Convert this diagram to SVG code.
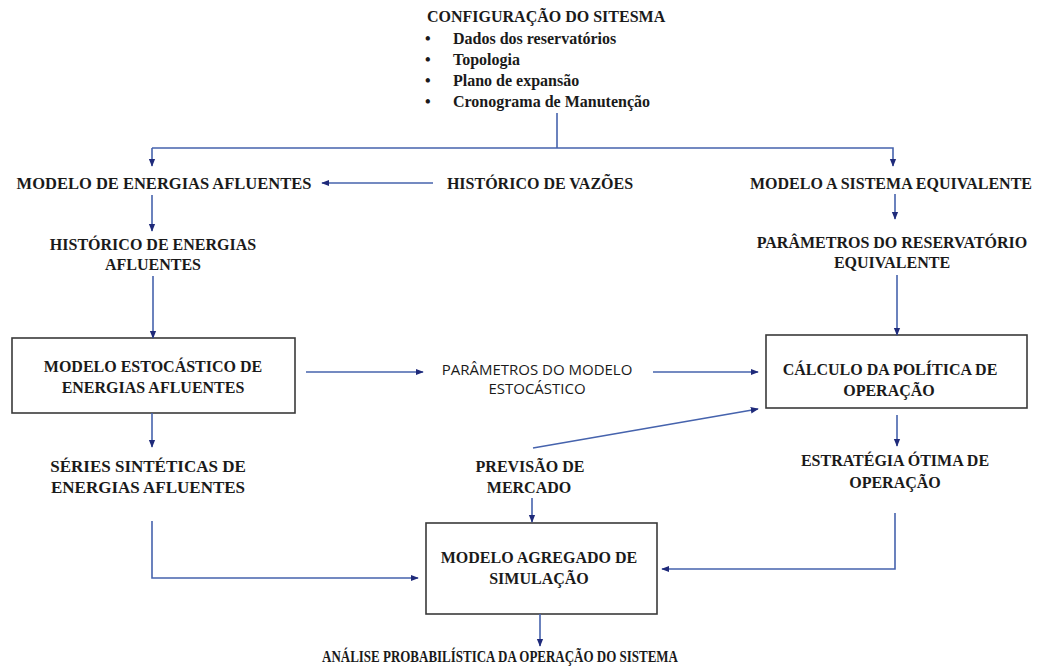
<svg xmlns="http://www.w3.org/2000/svg" width="1044" height="666" viewBox="0 0 1044 666">
<style>
  .t { font-family: "Liberation Serif", "Tinos", "Times New Roman", "Noto Serif", "DejaVu Serif", serif; font-weight: bold; font-size: 16px; fill: #1a1a1a; text-anchor: middle; }
  .s { font-family: "Liberation Serif", "Tinos", "Times New Roman", "Noto Serif", "DejaVu Serif", serif; font-weight: bold; font-size: 16px; fill: #1a1a1a; }
  .c { font-family: "Open Sans", "Liberation Sans", sans-serif; font-size: 15px; fill: #1a1a1a; text-anchor: middle; }
  .box { fill: #ffffff; stroke: #3a3a3a; stroke-width: 1.6; }
  .ln { fill: none; stroke: #4663ad; stroke-width: 1.6; }
  .ar { marker-end: url(#ah); }
</style>
<defs>
  <marker id="ah" viewBox="0 0 10 10" refX="9" refY="5" markerWidth="5" markerHeight="5" orient="auto" markerUnits="strokeWidth">
    <path d="M0,1 L10,5 L0,9 Z" fill="#1f2a7a"/>
  </marker>
</defs>
<rect width="1044" height="666" fill="#ffffff"/>

<g id="config">
  <text class="s" x="427" y="22">CONFIGURAÇÃO DO SITESMA</text>
  <text class="s" x="425" y="44">•</text><text class="s" x="453" y="44">Dados dos reservatórios</text>
  <text class="s" x="425" y="65">•</text><text class="s" x="453" y="65">Topologia</text>
  <text class="s" x="425" y="86">•</text><text class="s" x="453" y="86">Plano de expansão</text>
  <text class="s" x="425" y="107">•</text><text class="s" x="453" y="107">Cronograma de Manutenção</text>
</g>

<g id="modelo-energias"><text class="t" x="164" y="189" style="font-size:16.5px">MODELO DE ENERGIAS AFLUENTES</text></g>
<g id="historico-vazoes"><text class="t" x="540" y="189">HISTÓRICO DE VAZÕES</text></g>
<g id="modelo-sistema"><text class="t" x="891" y="189">MODELO A SISTEMA EQUIVALENTE</text></g>
<g id="historico-energias">
  <text class="t" x="153" y="250">HISTÓRICO DE ENERGIAS</text>
  <text class="t" x="153" y="270">AFLUENTES</text>
</g>
<g id="parametros-reservatorio">
  <text class="t" x="892" y="248">PARÂMETROS DO RESERVATÓRIO</text>
  <text class="t" x="892" y="268">EQUIVALENTE</text>
</g>
<g id="modelo-estocastico">
  <rect class="box" x="12" y="338" width="283" height="75"/>
  <text class="t" x="153" y="372">MODELO ESTOCÁSTICO DE</text>
  <text class="t" x="153" y="393">ENERGIAS AFLUENTES</text>
</g>
<g id="parametros-modelo">
  <text class="c" x="537" y="375">PARÂMETROS DO MODELO</text>
  <text class="c" x="537" y="394">ESTOCÁSTICO</text>
</g>
<g id="calculo-politica">
  <rect class="box" x="766" y="335" width="261" height="73"/>
  <text class="t" x="890" y="375">CÁLCULO DA POLÍTICA DE</text>
  <text class="t" x="889" y="396">OPERAÇÃO</text>
</g>
<g id="series-sinteticas">
  <text class="t" x="148" y="472" style="font-size:17px">SÉRIES SINTÉTICAS DE</text>
  <text class="t" x="148" y="493" style="font-size:17px">ENERGIAS AFLUENTES</text>
</g>
<g id="previsao-mercado">
  <text class="t" x="530" y="472">PREVISÃO DE</text>
  <text class="t" x="529" y="493">MERCADO</text>
</g>
<g id="estrategia">
  <text class="t" x="895" y="466">ESTRATÉGIA ÓTIMA DE</text>
  <text class="t" x="895" y="488">OPERAÇÃO</text>
</g>
<g id="modelo-agregado">
  <rect class="box" x="426" y="523" width="231" height="91"/>
  <text class="t" x="539" y="563">MODELO AGREGADO DE</text>
  <text class="t" x="539" y="584">SIMULAÇÃO</text>
</g>
<g id="analise"><text class="t" x="500" y="662" textLength="356" lengthAdjust="spacingAndGlyphs">ANÁLISE PROBABILÍSTICA DA OPERAÇÃO DO SISTEMA</text></g>

<g id="connectors">
  <path class="ln" d="M557,113 V148"/>
  <path class="ln ar" d="M152,148 H893 V166"/>
  <path class="ln ar" d="M152,148 V166"/>
  <path class="ln ar" d="M433,183 H322"/>
  <path class="ln ar" d="M152,195 V231"/>
  <path class="ln ar" d="M895,194 V219"/>
  <path class="ln ar" d="M153,276 V338"/>
  <path class="ln ar" d="M897,275 V335"/>
  <path class="ln ar" d="M306,372 H423"/>
  <path class="ln ar" d="M653,372 H758"/>
  <path class="ln ar" d="M533,448 L758,409"/>
  <path class="ln ar" d="M152,413 V447"/>
  <path class="ln ar" d="M897,415 V446"/>
  <path class="ln ar" d="M532,498 V522"/>
  <path class="ln ar" d="M152,521 V578 H418"/>
  <path class="ln ar" d="M895,513 V569 H662"/>
  <path class="ln ar" d="M540,614 V646"/>
</g>
</svg>
